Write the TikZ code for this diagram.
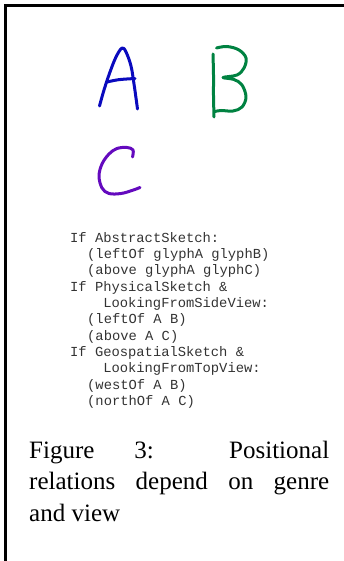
\documentclass[tikz,border=0pt]{standalone}
\usepackage{fontspec}
\setmainfont{Liberation Serif}
\newfontfamily\codefont{Liberation Mono}
\definecolor{glyphblue}{RGB}{10,10,190}
\definecolor{glyphgreen}{RGB}{0,130,65}
\definecolor{glyphpurple}{RGB}{100,10,190}
\tikzset{
  stroke/.style={line width=3pt,line cap=round,line join=round},
  codeline/.style={anchor=base west,inner sep=0pt,font=\codefont\fontsize{13.8}{16.3}\selectfont,text=black!80},
}
\begin{document}
\begin{tikzpicture}[x=1pt,y=-1pt]
  \useasboundingbox (0,0) rectangle (344,561);

  % frame
  \draw[line width=2.5pt] (5.5,561) -- (5.5,5.5) -- (344,5.5);

  % hand drawn glyphs
  \draw[stroke,glyphblue] plot[smooth,tension=0.6] coordinates
    {(99.5,106) (104,90) (110,72) (116,57) (122,48) (126,52) (131,66) (134,84) (136,98) (137.5,109)};
  \draw[stroke,glyphblue] (107,82) .. controls (118,79.5) .. (135,78.5);

  \draw[stroke,glyphgreen] plot[smooth,tension=0.5] coordinates
    {(213,54) (213.5,75) (213.5,96) (214,117)};
  \draw[stroke,glyphgreen] plot[smooth,tension=0.6] coordinates
    {(216.5,48) (227,46.5) (239,50) (246,58) (244,68) (237,75) (223,77.5) (234,79.5) (242,85) (246,97) (242,107) (233,111) (221,110.5) (215,111.5)};

  \draw[stroke,glyphpurple] plot[smooth,tension=0.6] coordinates
    {(132.5,157) (133,150) (127,147.5) (117,148.5) (109,154) (102,164) (99,176) (102,188) (109,193.5) (121,193.5) (132,190.5) (140,187.5)};

  % rule text
  \begin{scope}[every node/.style={codeline}]
    \node (l1)  at (70,242)    {If AbstractSketch:};
    \node (l2)  at (87,258)    {(leftOf glyphA glyphB)};
    \node (l3)  at (87,274)    {(above glyphA glyphC)};
    \node (l4)  at (70,291)    {If PhysicalSketch \&};
    \node (l5)  at (103.1,307) {LookingFromSideView:};
    \node (l6)  at (87,323)    {(leftOf A B)};
    \node (l7)  at (87,340)    {(above A C)};
    \node (l8)  at (70,356)    {If GeospatialSketch \&};
    \node (l9)  at (103.1,372) {LookingFromTopView:};
    \node (l10) at (87,389)    {(westOf A B)};
    \node (l11) at (87,405)    {(northOf A C)};
  \end{scope}

  % caption
  \node[anchor=base west,inner sep=0pt,text width=300pt,align=justify,
        font=\fontsize{25}{31.5}\selectfont] (caption) at (29,458)
    {Figure 3: Positional\linebreak relations depend on genre\linebreak and view};
\end{tikzpicture}
\end{document}
